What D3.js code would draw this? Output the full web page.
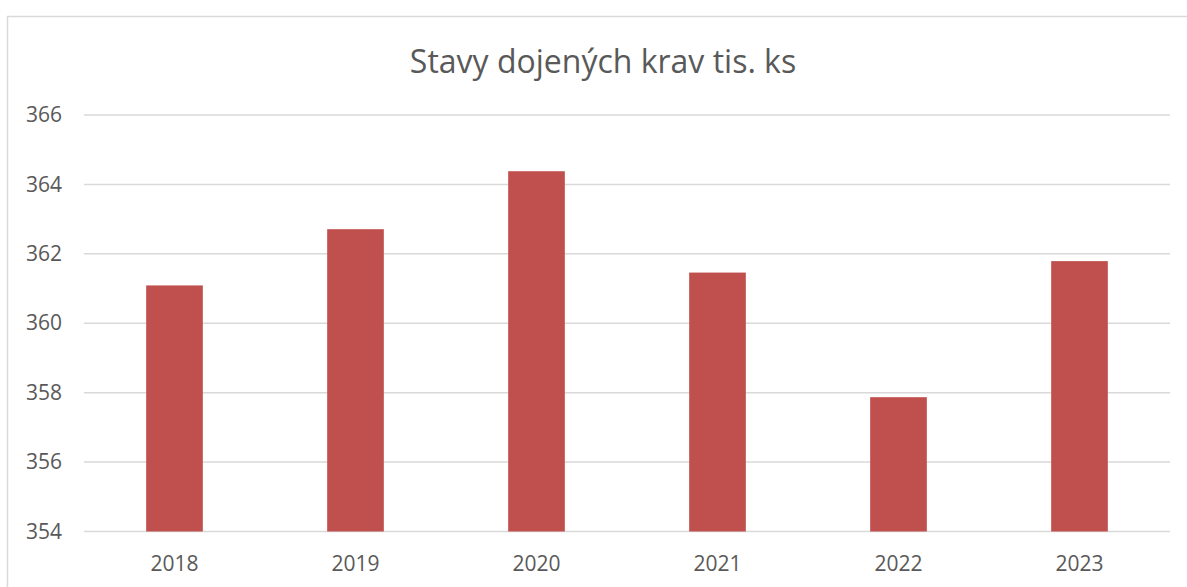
<!DOCTYPE html>
<html>
<head>
<meta charset="utf-8">
<script src="https://cdn.jsdelivr.net/npm/d3@7"></script>
<style>
  html, body { margin: 0; padding: 0; background: #fff; }
  svg { display: block; }
</style>
</head>
<body>
<svg id="chart" width="1187" height="587"></svg>
<script>
const title = "Stavy dojených krav tis. ks";
const categories = ["2018", "2019", "2020", "2021", "2022", "2023"];
const values = [361.09, 362.71, 364.38, 361.46, 357.87, 361.79];
const yTicks = [354, 356, 358, 360, 362, 364, 366];

const W = 1187, H = 587;
const margin = { left: 84, right: 17, top: 115, bottom: 55 };
const svg = d3.select("#chart");

// chart frame
svg.append("rect")
  .attr("x", 7.5).attr("y", 16.5)
  .attr("width", 1200).attr("height", 600)
  .attr("fill", "none").attr("stroke", "#d9d9d9").attr("stroke-width", 1.5);

const x = d3.scaleBand().domain(categories).range([margin.left, W - margin.right]).padding(0);
const y = d3.scaleLinear().domain([354, 366]).range([H - margin.bottom - 0.5, margin.top]);

// gridlines
svg.append("g")
  .selectAll("line").data(yTicks).join("line")
  .attr("x1", margin.left).attr("x2", W - margin.right)
  .attr("y1", d => y(d)).attr("y2", d => y(d))
  .attr("stroke", "#d9d9d9").attr("stroke-width", 1.5);

// y labels
const yAxis = d3.axisLeft(y).tickValues(yTicks).tickSize(0).tickPadding(0);
const gy = svg.append("g").attr("transform", `translate(${margin.left - 22},0)`).call(yAxis);
gy.select(".domain").remove();
gy.selectAll("text")
  .attr("fill", "#595959")
  .style("font-family", "'Open Sans', sans-serif")
  .style("font-size", "21px");

// bars
const barW = x.bandwidth() * 0.313;
svg.append("g")
  .selectAll("rect").data(values).join("rect")
  .attr("x", (d, i) => x(categories[i]) + x.bandwidth() / 2 - barW / 2)
  .attr("width", barW)
  .attr("y", d => y(d))
  .attr("height", d => y(354) - y(d))
  .attr("fill", "#c0504d");

// x labels
const xAxis = d3.axisBottom(x).tickSize(0).tickPadding(0);
const gx = svg.append("g").attr("transform", `translate(0,${H - margin.bottom + 24})`).call(xAxis);
gx.select(".domain").remove();
gx.selectAll("text")
  .attr("fill", "#595959")
  .attr("dy", "0.71em")
  .style("font-family", "'Open Sans', sans-serif")
  .style("font-size", "21px");

// title
svg.append("text")
  .attr("x", 603).attr("y", 73)
  .attr("text-anchor", "middle")
  .attr("fill", "#595959")
  .style("font-family", "'Open Sans', sans-serif")
  .style("font-size", "32px")
  .text(title);
</script>
</body>
</html>
